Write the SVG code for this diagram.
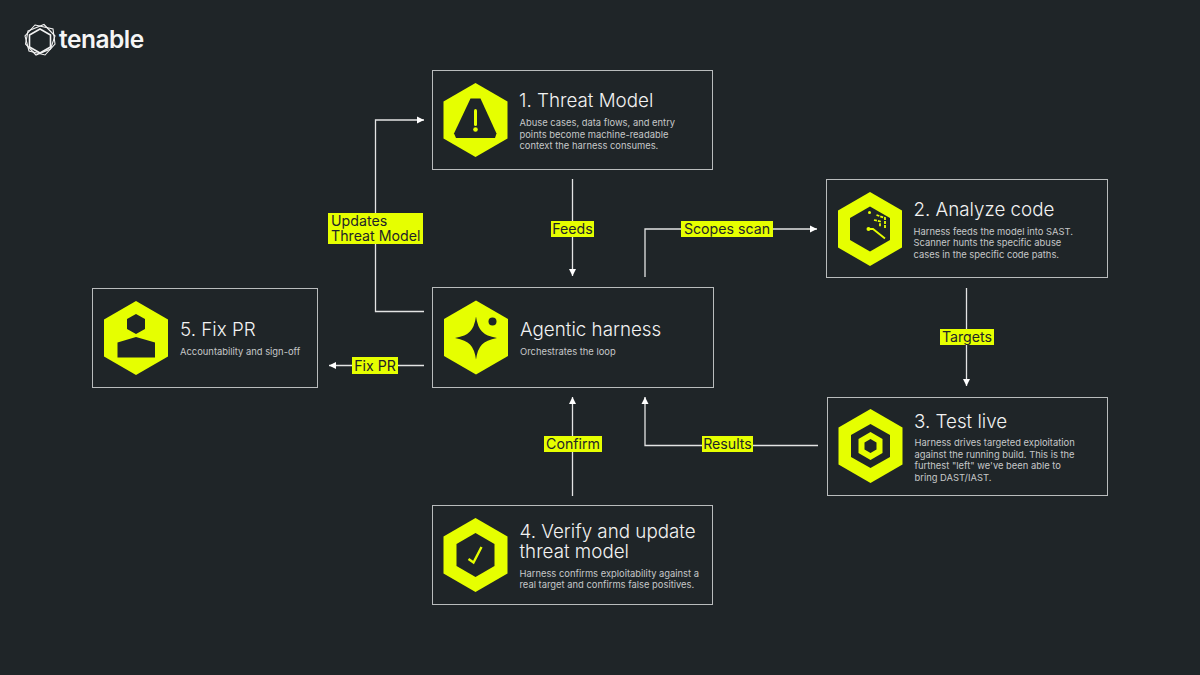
<svg xmlns="http://www.w3.org/2000/svg" width="1200" height="675" viewBox="0 0 1200 675">
<defs>
<polygon id="hex" points="0,-37 32,-18.5 32,18.5 0,37 -32,18.5 -32,-18.5"/>
<marker id="arrow" markerUnits="userSpaceOnUse" markerWidth="8" markerHeight="8" refX="7" refY="4" orient="auto"><path d="M0,0.5 L7,4 L0,7.500 Z" fill="#fff"/></marker>
</defs>
<style>
text{font-family:Inter,"Liberation Sans",sans-serif}
.box{fill:#1f2528;stroke:#b9bcbd;stroke-width:1}
.y{fill:#e6ff00}
.d{fill:#1f2528}
.t{font-size:18.8px;fill:#f2f2f2;font-weight:300;letter-spacing:0}
.s{font-size:9.38px;fill:#c6c8c9}
.l{font-size:14.2px;fill:#1f2528}
.c{fill:none;stroke:#e3e4e4;stroke-width:1.3;marker-end:url(#arrow)}
</style>
<rect width="1200" height="675" fill="#1f2528"/>
<g id="logo" fill="none" stroke="#f2f2f2" stroke-width="1.1">
<polygon points="35,25 53,29 55,44 45,55 29,51 25,36"/>
<polygon points="28,31 44,24.500 55,36 50.500,49 36,55 25.500,44"/>
<polygon points="40,29 50.500,35 50.500,47 40,53 29.500,47 29.500,35" stroke-width="1.6"/>
<text x="59" y="48" font-size="24.5" font-weight="600" fill="#f5f5f5" stroke="none" letter-spacing="-.5">tenable</text>
</g>
<g id="connectors">
<path class="c" d="M572.500 179V276"/>
<path class="c" d="M645 277V229H817"/>
<path class="c" d="M966.500 288V386"/>
<path class="c" d="M818 445.500H645V397"/>
<path class="c" d="M572.500 496V397"/>
<path class="c" d="M424 365.500H329"/>
<path class="c" d="M424 311.500H375.500V120H424"/>
</g>
<g id="edge-labels">
<g id="label-feeds"><rect class="y" x="551" y="221" width="43" height="16"/><text class="l" x="572.500" y="234" text-anchor="middle">Feeds</text></g>
<g id="label-scopes"><rect class="y" x="681" y="221" width="92" height="16"/><text class="l" x="727" y="234" text-anchor="middle">Scopes scan</text></g>
<g id="label-targets"><rect class="y" x="940" y="329" width="54" height="16"/><text class="l" x="967" y="342" text-anchor="middle">Targets</text></g>
<g id="label-results"><rect class="y" x="702" y="436" width="51" height="16"/><text class="l" x="727.500" y="449" text-anchor="middle">Results</text></g>
<g id="label-confirm"><rect class="y" x="544" y="436" width="58" height="16"/><text class="l" x="573" y="449" text-anchor="middle">Confirm</text></g>
<g id="label-fix"><rect class="y" x="352" y="357" width="46" height="17"/><text class="l" x="375" y="370.500" text-anchor="middle">Fix PR</text></g>
<g id="label-updates"><rect class="y" x="328" y="213" width="95" height="31"/><text class="l" x="331" y="226">Updates</text><text class="l" x="331" y="241">Threat Model</text></g>
</g>
<g id="node-1">
<rect class="box" x="432.500" y="70.500" width="280" height="99"/>
<use href="#hex" class="y" x="475.500" y="120"/>
<path class="d" d="M470.500 98.500H480.500L496.500 133.500L495 138H456L454 133.500Z"/>
<rect class="y" x="474" y="109" width="3" height="17" rx="1.500"/>
<circle class="y" cx="475.500" cy="129.500" r="2.300"/>
<text class="t" x="519" y="107">1. Threat Model</text>
<text class="s" x="519.500" y="126">Abuse cases, data flows, and entry</text>
<text class="s" x="519.500" y="137.500">points become machine-readable</text>
<text class="s" x="519.500" y="149">context the harness consumes.</text>
</g>
<g id="node-2">
<rect class="box" x="826.500" y="179.500" width="281" height="98"/>
<use href="#hex" class="y" x="870" y="229"/>
<polygon class="d" points="870,206.500 890,218 890,240 870,251.500 850,240 850,218"/>
<g fill="none" stroke="#e6ff00" stroke-width="1.800">
<path d="M868 229H873L885 238.500"/>
<path d="M876.500 215L885 218V229" stroke-dasharray="3 1"/>
<path d="M874 220L880 221.500V227" stroke-dasharray="3 1"/>
</g>
<circle class="y" cx="869.500" cy="212.500" r="1.500"/><circle class="y" cx="868.500" cy="229" r="2"/>
<text class="t" x="913.500" y="216">2. Analyze code</text>
<text class="s" x="913.500" y="234.500">Harness feeds the model into SAST.</text>
<text class="s" x="913.500" y="246">Scanner hunts the specific abuse</text>
<text class="s" x="913.500" y="258">cases in the specific code paths.</text>
</g>
<g id="node-3">
<rect class="box" x="827.500" y="397.500" width="280" height="98"/>
<use href="#hex" class="y" x="870.500" y="446"/>
<polygon class="d" points="870.500,424 890,435 890,457 870.500,468 851,457 851,435"/>
<polygon class="y" points="870.500,432 882.500,439 882.500,453 870.500,460 858.500,453 858.500,439"/>
<polygon class="d" points="870.500,439 876.500,442.500 876.500,449.500 870.500,453 864.500,449.500 864.500,442.500"/>
<text class="t" x="914" y="428">3. Test live</text>
<text class="s" x="914.500" y="446">Harness drives targeted exploitation</text>
<text class="s" x="914.500" y="457.500">against the running build. This is the</text>
<text class="s" x="914.500" y="469">furthest "left" we've been able to</text>
<text class="s" x="914.500" y="480.500">bring DAST/IAST.</text>
</g>
<g id="node-4">
<rect class="box" x="432.500" y="505.500" width="280" height="99"/>
<use href="#hex" class="y" x="475.500" y="555"/>
<polygon class="d" points="475.500,533 494.500,544 494.500,566 475.500,577 456.500,566 456.500,544"/>
<path d="M468.500 559L473.500 562.500L481.500 547" fill="none" stroke="#e6ff00" stroke-width="2.400"/>
<text class="t" x="519.500" y="538"><tspan x="519.500" y="538">4. Verify and update</tspan><tspan x="519.500" y="558">threat model</tspan></text>
<text class="s" x="519.500" y="577">Harness confirms exploitability against a</text>
<text class="s" x="519.500" y="588">real target and confirms false positives.</text>
</g>
<g id="node-harness">
<rect class="box" x="432.500" y="287.500" width="281" height="100"/>
<use href="#hex" class="y" x="476" y="337.500"/>
<path class="d" d="M476 316.500Q477.500 327 482 331.500Q486 336 497 338Q486 340 482 344.500Q477.500 349 476 359.500Q474.500 349 470 344.500Q466 340 455 338Q466 336 470 331.500Q474.500 327 476 316.500Z"/>
<circle class="d" cx="492.500" cy="321.500" r="4"/>
<text class="t" x="520" y="336">Agentic harness</text>
<text class="s" x="520" y="355">Orchestrates the loop</text>
</g>
<g id="node-5">
<rect class="box" x="92.500" y="288.500" width="225" height="99"/>
<use href="#hex" class="y" x="136" y="338"/>
<polygon class="d" points="136,314 145,319 145,329 136,334 127,329 127,319"/>
<polygon class="d" points="136,337 155,342.500 155,357.500 117.500,357.500 117.500,342.500"/>
<text class="t" x="180" y="336">5. Fix PR</text>
<text class="s" x="180" y="355">Accountability and sign-off</text>
</g>
</svg>
